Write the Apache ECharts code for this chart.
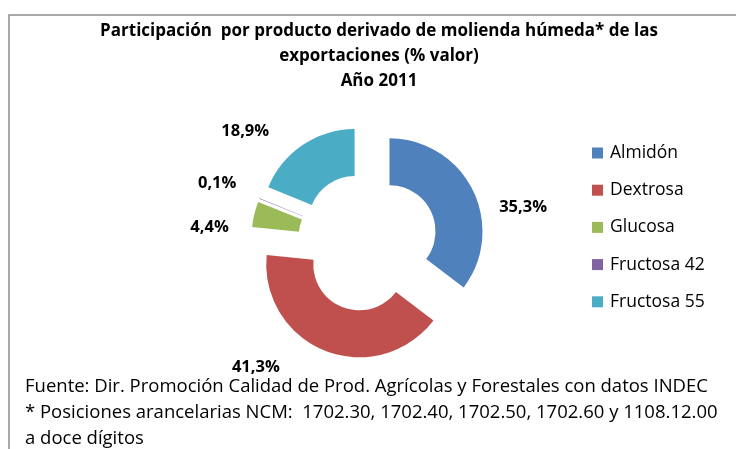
<!DOCTYPE html>
<html>
<head>
<meta charset="utf-8">
<script src="https://cdn.jsdelivr.net/npm/echarts@6/dist/echarts.min.js"></script>
<style>
  html, body { margin: 0; padding: 0; background: #fff; }
  #chart { width: 736px; height: 449px; }
</style>
</head>
<body>
<div id="chart"></div>
<script>
const productos = ['Almidón', 'Dextrosa', 'Glucosa', 'Fructosa 42', 'Fructosa 55'];
const participacion = [35.3, 41.3, 4.4, 0.1, 18.9];
const colores = ['#4F81BD', '#C0504D', '#9BBB59', '#8064A2', '#4BACC6'];

const titulo = 'Participación  por producto derivado de molienda húmeda* de las\nexportaciones (% valor)\nAño 2011';
const fuente = 'Fuente: Dir. Promoción Calidad de Prod. Agrícolas y Forestales con datos INDEC\n* Posiciones arancelarias NCM:  1702.30, 1702.40, 1702.50, 1702.60 y 1108.12.00\na doce dígitos';

// small shifts so labels sit where the original chart put them
const labelNudge = [[-4, 24], [-23, 2], [6, 17], [8, -10], [-8, -1]];

const fontName = '"Open Sans", "Noto Sans", sans-serif';

const chart = echarts.init(document.getElementById('chart'));

chart.setOption({
  animation: false,
  title: {
    text: titulo,
    left: 374,
    textAlign: 'center',
    top: 14,
    textStyle: {
      fontFamily: fontName,
      fontSize: 17,
      fontWeight: 'bold',
      color: '#000',
      lineHeight: 25
    }
  },
  legend: {
    orient: 'vertical',
    left: 592,
    top: 144,
    padding: 0,
    itemWidth: 11,
    itemHeight: 11,
    itemGap: 19.2,
    icon: 'rect',
    selectedMode: false,
    textStyle: { fontFamily: fontName, fontSize: 17.5, color: '#000', padding: [0, 0, 0, 2] },
    data: productos
  },
  graphic: [
    {
      type: 'polyline',
      shape: { points: [[9, 449], [9, 15], [736, 15]] },
      style: { stroke: '#8c8c8c', lineWidth: 1.5, fill: null }
    },
    {
      type: 'text',
      left: 25,
      top: 374,
      style: {
        text: fuente,
        fontFamily: fontName,
        fontSize: 18.5,
        lineHeight: 26,
        fill: '#000'
      }
    }
  ],
  series: [
    {
      type: 'pie',
      center: [368, 242],
      radius: [46, 93],
      startAngle: 90,
      clockwise: true,
      selectedMode: 'multiple',
      selectedOffset: 24,
      avoidLabelOverlap: false,
      emphasis: { disabled: true },
      label: {
        show: true,
        position: 'outside',
        formatter: p => p.value.toFixed(1).replace('.', ',') + '%',
        fontFamily: fontName,
        fontSize: 16.5,
        fontWeight: 'bold',
        color: '#000'
      },
      labelLine: { show: false, length: 15, length2: 12 },
      labelLayout: p => ({
        dx: labelNudge[p.dataIndex][0],
        dy: labelNudge[p.dataIndex][1],
        hideOverlap: false
      }),
      data: productos.map((name, i) => ({
        name: name,
        value: participacion[i],
        selected: true,
        itemStyle: { color: colores[i] }
      }))
    }
  ]
});
</script>
</body>
</html>
